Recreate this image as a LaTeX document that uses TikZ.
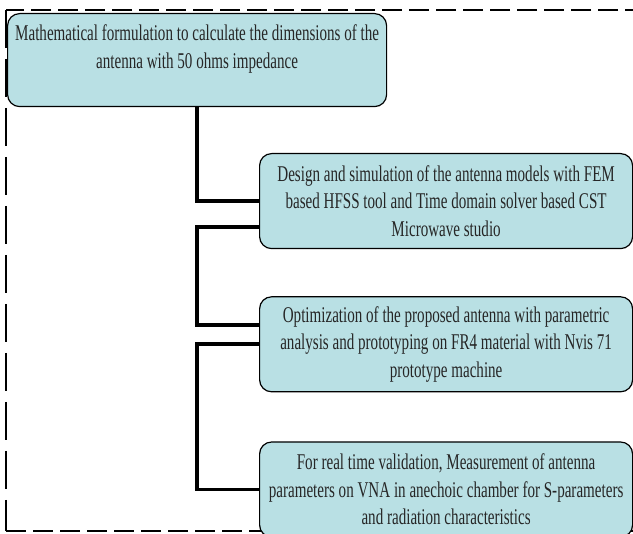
\documentclass[tikz,border=0pt]{standalone}
\usepackage{fontspec}
\setmainfont[FakeStretch=0.67]{Liberation Serif}
\usetikzlibrary{positioning}
\usetikzlibrary{calc}
\definecolor{boxfill}{RGB}{185,224,228}

\begin{document}
\begin{tikzpicture}[node distance={47pt}, main/.style = {draw, rounded corners=12pt, fill=boxfill, line width=1.2pt, minimum width=373pt, minimum height=95pt, align=center, inner sep=2pt, text=black!85, font=\fontsize{22.5}{27.5}\selectfont}, link/.style = {line width=3.6pt}, frame/.style = {line width=2.5pt}]
            \useasboundingbox (0,0) rectangle (633pt,-534pt);
            % dashed frame
            \draw[frame, dash pattern=on 20pt off 7pt] (645pt,-10pt) -- (6pt,-10pt);
            \draw[frame, dash pattern=on 38pt off 11pt] (6pt,-10pt) -- (6pt,-531pt);
            \draw[frame, dash pattern=on 20pt off 7pt] (6pt,-531pt) -- (645pt,-531pt);
            \node[main, anchor=north west, minimum width=379pt, minimum height=93pt] (1) at (7pt,-13pt) {Mathematical formulation to calculate the dimensions of the\\antenna with 50 ohms impedance\\ \mbox{}};
            \node[main, anchor=north west] (2) at (259pt,-153pt) {Design and simulation of the antenna models with FEM\\based HFSS tool and Time domain solver based CST\\Microwave studio};
            \node[main] (3) [below=47pt of 2] {Optimization of the proposed antenna with parametric\\analysis and prototyping on FR4 material with Nvis 71\\prototype machine};
            \node[main] (4) [below=49pt of 3] {For real time validation, Measurement of antenna\\parameters on VNA in anechoic chamber for S-parameters\\and radiation characteristics};
            \draw[link] (1.south) |- (2.west);
            \draw[link] ($(2.west)+(0,-26pt)$) -| ($(1.south |- 3.west)+(0,19pt)$) -- ($(3.west)+(0,19pt)$);
            \draw[link] (3.west) -| (1.south |- 4.west) -- (4.west);
        \end{tikzpicture}
\end{document}
